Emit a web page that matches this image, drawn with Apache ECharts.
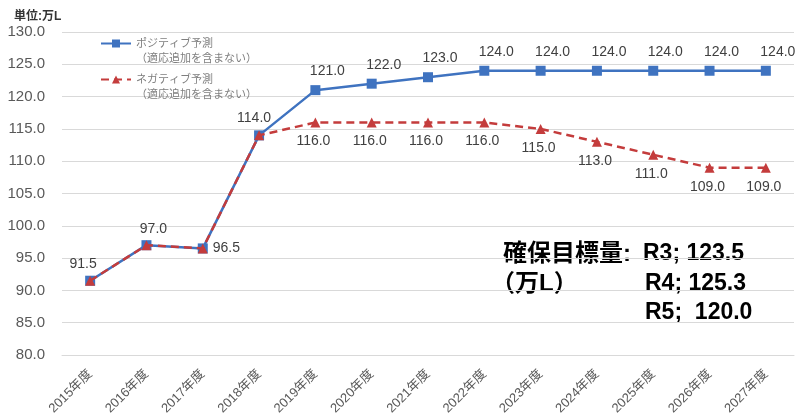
<!DOCTYPE html>
<html>
<head>
<meta charset="utf-8">
<script src="https://cdn.jsdelivr.net/npm/echarts@6/dist/echarts.min.js"></script>
<style>
  html, body { margin: 0; padding: 0; background: #fff; }
  #chart-container { width: 800px; height: 416px; }
</style>
</head>
<body>
<div id="chart-container"></div>
<script>
// data
const years = ['2015年度', '2016年度', '2017年度', '2018年度', '2019年度', '2020年度', '2021年度',
  '2022年度', '2023年度', '2024年度', '2025年度', '2026年度', '2027年度']
const positive = [91.5, 97.0, 96.5, 114.0, 121.0, 122.0, 123.0, 124.0, 124.0, 124.0, 124.0, 124.0, 124.0]
const negative = [91.5, 97.0, 96.5, 114.0, 116.0, 116.0, 116.0, 116.0, 115.0, 113.0, 111.0, 109.0, 109.0]
const yTicks = { min: 80, max: 130, interval: 5 }
const posName = 'ポジティブ予測'
const negName = 'ネガティブ予測'
const legendNote = '（適応追加を含まない）'
const targetRows = [
  ['確保目標量:', 'R3; 123.5'],
  ['（万L）', 'R4; 125.3'],
  ['', 'R5;  120.0']
]

const FONT = '"Liberation Sans", "Noto Sans CJK JP", sans-serif'
const BLUE = '#3f73c0'
const RED = '#c43c3c'

// first four points are shared, labels only on the positive series
const firstLabels = [
  { position: 'top', offset: [-7, 0] },
  { position: 'top', offset: [7, 1] },
  { position: 'right', offset: [0, 0] },
  { position: 'top', offset: [-5, 0] }
]

const posData = positive.map((v, i) => {
  if (i < 4) return { value: v, label: firstLabels[i] }
  return v
})
const negData = negative.map((v, i) => {
  if (i < 4) return { value: v, label: { show: false } }
  return v
})

const chart = echarts.init(document.getElementById('chart-container'))

const legendBase = {
  orient: 'vertical',
  padding: 0,
  itemWidth: 30,
  itemHeight: 10,
  textStyle: { fontSize: 11, color: '#7f7f7f', fontFamily: FONT, lineHeight: 15 },
  // empty first line keeps the icon level with the first text line
  formatter: name => '\n' + name + '\n' + legendNote
}

const graphics = []
targetRows.forEach((row, i) => {
  const y = [254, 284, 313][i]
  if (row[0]) {
    graphics.push({
      type: 'text',
      x: i === 0 ? 503 : 491,
      y: y,
      style: { text: row[0], fontSize: 24, fontWeight: 'bold', fontFamily: FONT, fill: '#000', verticalAlign: 'middle' }
    })
  }
  graphics.push({
    type: 'text',
    x: i === 0 ? 643 : 645,
    y: y,
    style: { text: row[1], fontSize: 23, fontWeight: 'bold', fontFamily: FONT, fill: '#000', verticalAlign: 'middle' }
  })
})
graphics.push({
  type: 'text',
  x: 14,
  y: 17,
  style: { text: '単位:万L', fontSize: 12, fontWeight: 'bold', fontFamily: FONT, fill: '#333', verticalAlign: 'middle' }
})

const option = {
  animation: false,
  grid: { left: 62, right: 6, top: 32, bottom: 61, containLabel: false, outerBoundsMode: 'none' },
  legend: [
    Object.assign({ data: [posName], left: 100, top: 21 }, legendBase),
    Object.assign({ data: [negName], left: 100, top: 57 }, legendBase)
  ],
  xAxis: {
    type: 'category',
    data: years,
    boundaryGap: true,
    axisLine: { lineStyle: { color: '#d9d9d9' } },
    axisTick: { show: false },
    axisLabel: { rotate: 45, margin: 17, fontSize: 13, color: '#595959', fontFamily: FONT }
  },
  yAxis: {
    type: 'value',
    min: yTicks.min,
    max: yTicks.max,
    interval: yTicks.interval,
    axisLine: { show: false },
    axisTick: { show: false },
    splitLine: { lineStyle: { color: '#d9d9d9', width: 1 } },
    axisLabel: {
      margin: 17,
      fontSize: 15,
      color: '#595959',
      fontFamily: FONT,
      formatter: v => v.toFixed(1)
    }
  },
  series: [
    {
      name: posName,
      type: 'line',
      data: posData,
      symbol: 'rect',
      symbolSize: 10,
      itemStyle: { color: BLUE },
      lineStyle: { color: BLUE, width: 2.5 },
      label: {
        show: true,
        position: 'top',
        offset: [12, -2],
        fontSize: 14,
        color: '#404040',
        fontFamily: FONT,
        formatter: p => p.value.toFixed(1)
      },
      z: 2
    },
    {
      name: negName,
      type: 'line',
      data: negData,
      symbol: 'triangle',
      symbolSize: 10,
      itemStyle: { color: RED },
      lineStyle: { color: RED, width: 2.5, type: [8, 5] },
      label: {
        show: true,
        position: 'bottom',
        offset: [-2, 2],
        fontSize: 14,
        color: '#404040',
        fontFamily: FONT,
        formatter: p => p.value.toFixed(1)
      },
      z: 3
    }
  ],
  graphic: graphics
}

chart.setOption(option)
</script>
</body>
</html>
